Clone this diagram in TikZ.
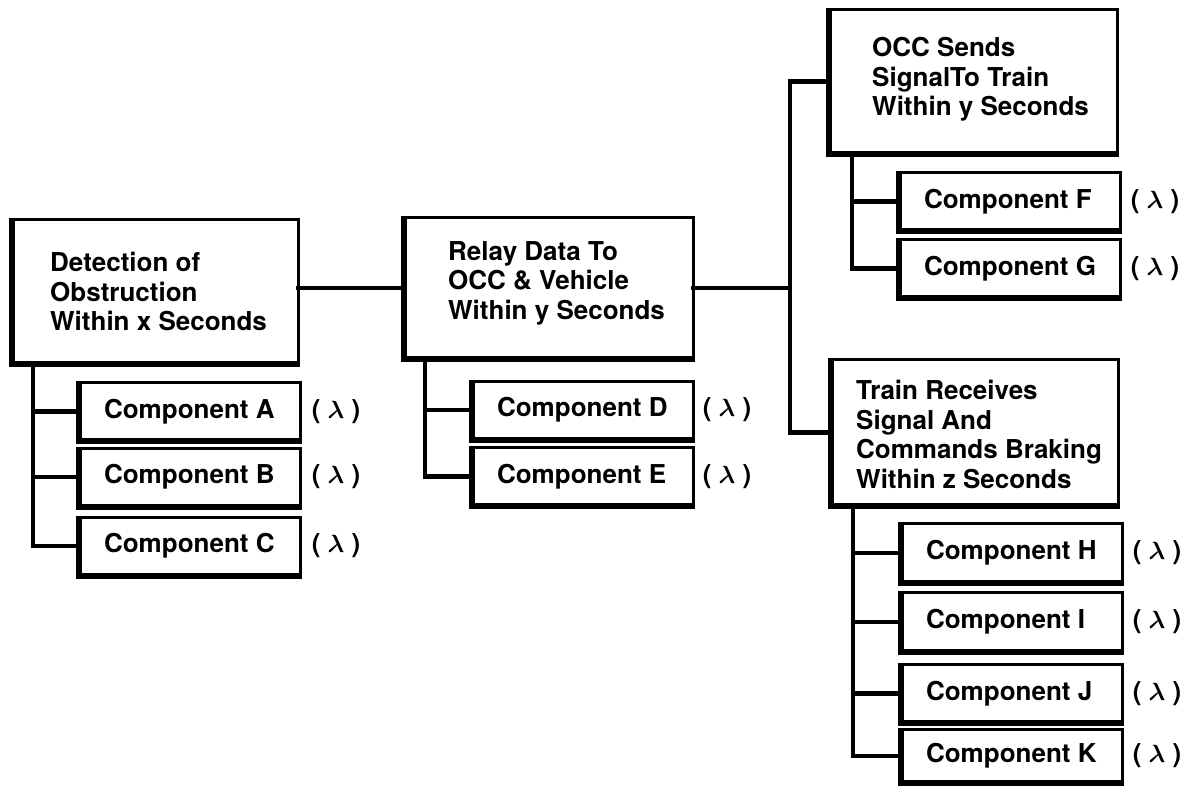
\documentclass[tikz,border=0pt]{standalone}
\usepackage{fontspec}
\setmainfont{TeX Gyre Heros}
\usepackage{bm}
\begin{document}
\begin{tikzpicture}[x=1pt,y=1pt,
  every node/.style={font=\fontsize{26}{29.5}\selectfont\bfseries},
  bigbox/.style={draw, line width=3pt, outer sep=0pt, inner sep=0pt},
  compbox/.style={draw, line width=3pt, outer sep=0pt, inner ysep=0pt, inner xsep=24pt,
    minimum width=220pt, minimum height=57pt},
  txt/.style={anchor=west, align=left, inner sep=0pt},
  lam/.style={inner sep=0pt},
  conn/.style={line width=4.5pt, line cap=rect}
]
\useasboundingbox (0,0) rectangle (1195,787);
% main boxes
\node[bigbox, minimum width=285pt, minimum height=143pt] (b1) at (155.5,495.5) {};
\node[bigbox, minimum width=288pt, minimum height=140pt] (b2) at (549,499) {};
\node[bigbox, minimum width=287pt, minimum height=143pt] (b3) at (973.5,705.5) {};
\node[bigbox, minimum width=286pt, minimum height=145pt] (b4) at (975,354.5) {};
\node[txt, xshift=37pt] (t1) at (b1.west) {Detection of\\Obstruction\\Within x Seconds};
\node[txt, xshift=43pt, yshift=5pt] (t2) at (b2.west) {Relay Data To\\OCC \& Vehicle\\Within y Seconds};
\node[txt, xshift=42pt, yshift=2pt] (t3) at (b3.west) {OCC Sends\\SignalTo Train\\Within y Seconds};
\node[txt, xshift=24pt, yshift=-2pt] (t4) at (b4.west) {Train Receives\\Signal And\\Commands Braking\\Within z Seconds};
% component boxes
\newcommand\cmp[1]{\makebox[172pt][l]{Component #1}}
\node[compbox] (cA) at (190,375.5) {\cmp{A}};
\node[compbox] (cB) at (190,310) {\cmp{B}};
\node[compbox] (cC) at (190,241) {\cmp{C}};
\node[compbox] (cD) at (583,377) {\cmp{D}};
\node[compbox] (cE) at (583,310.5) {\cmp{E}};
\node[compbox] (cF) at (1010,585.5) {\cmp{F}};
\node[compbox] (cG) at (1010,518.5) {\cmp{G}};
\node[compbox, minimum height=58pt] (cH) at (1012,234) {\cmp{H}};
\node[compbox, minimum height=58pt] (cI) at (1012,165) {\cmp{I}};
\node[compbox] (cJ) at (1012,93.5) {\cmp{J}};
\node[compbox, minimum height=52pt] (cK) at (1012,31) {\cmp{K}};
% thick left and bottom edges
\foreach \n in {b1,b2,b3,b4,cA,cB,cC,cD,cE,cF,cG,cH,cI,cJ,cK}
  \draw[line width=3.5pt] ([shift={(-2.75pt,1.5pt)}]\n.north west) -- ([shift={(-2.75pt,-2.75pt)}]\n.south west) -- ([shift={(1.5pt,-2.75pt)}]\n.south east);
% lambda labels
\foreach \n/\x in {cA/336,cB/336,cC/336,cD/727,cE/727,cF/1155,cG/1155,cH/1157,cI/1157,cJ/1157,cK/1157}
  \node[lam] (l\n) at (\x,0 |- \n.center) {( $\bm{\lambda}$ )};
% connectors
\path (b1.south west) ++(20,0) coordinate (s1);
\path (b2.south west) ++(20,0) coordinate (s2);
\path (b3.south west) ++(22,0) coordinate (s3);
\path (b4.south west) ++(21,0) coordinate (s4);
\draw[conn] (s1) |- (cA.west);
\draw[conn] (s1) |- (cB.west);
\draw[conn] (s1) |- (cC.west);
\draw[conn] (s2) |- (cD.west);
\draw[conn] (s2) |- (cE.west);
\draw[conn] (s3) |- (cF.west);
\draw[conn] (s3) |- (cG.west);
\draw[conn] (s4) |- (cH.west);
\draw[conn] (s4) |- (cI.west);
\draw[conn] (s4) |- (cJ.west);
\draw[conn] (s4) |- (cK.west);
\draw[conn] (b2.west) -- (b2.west -| b1.east);
\coordinate (bus) at (790,0);
\draw[conn] (b2.east) -- (b2.east -| bus);
\draw[conn] (b3.west) -| (bus |- b4.west) -- (b4.west);
\end{tikzpicture}
\end{document}
